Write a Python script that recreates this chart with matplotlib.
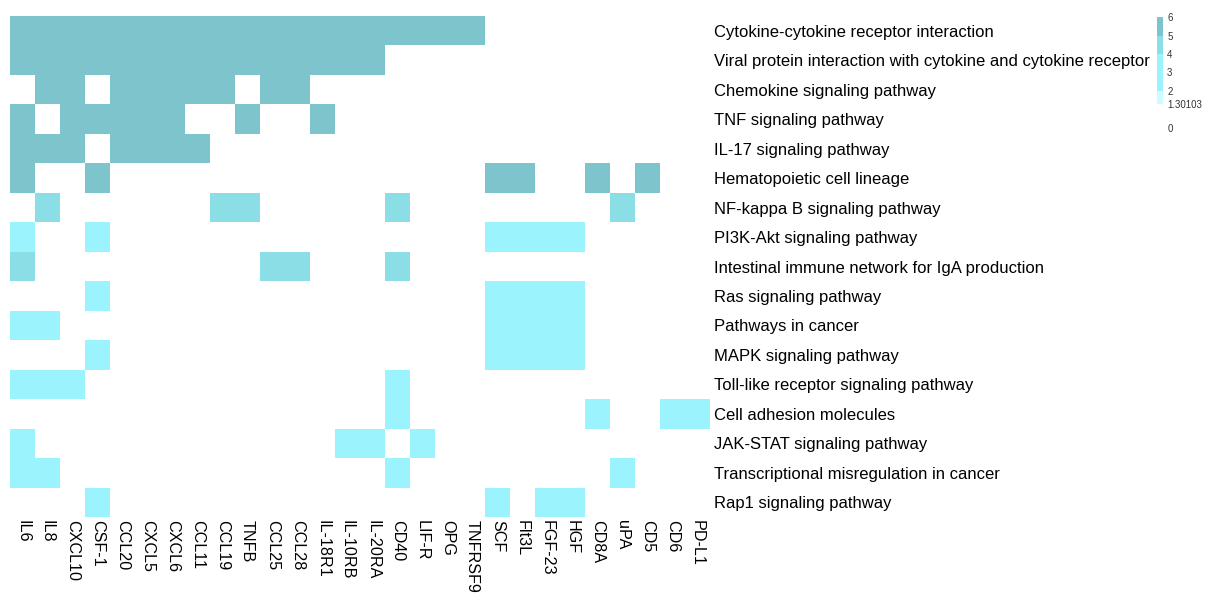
import numpy as np
import matplotlib
matplotlib.use("Agg")
import matplotlib.pyplot as plt
from matplotlib.colors import ListedColormap, BoundaryNorm

plt.rcParams['font.family'] = ['Liberation Sans', 'DejaVu Sans']

# genes (columns) and KEGG pathways (rows)
genes = ["IL6", "IL8", "CXCL10", "CSF-1", "CCL20", "CXCL5", "CXCL6", "CCL11",
         "CCL19", "TNFB", "CCL25", "CCL28", "IL-18R1", "IL-10RB", "IL-20RA",
         "CD40", "LIF-R", "OPG", "TNFRSF9", "SCF", "Flt3L", "FGF-23", "HGF",
         "CD8A", "uPA", "CD5", "CD6", "PD-L1"]

pathways = ["Cytokine-cytokine receptor interaction",
            "Viral protein interaction with cytokine and cytokine receptor",
            "Chemokine signaling pathway",
            "TNF signaling pathway",
            "IL-17 signaling pathway",
            "Hematopoietic cell lineage",
            "NF-kappa B signaling pathway",
            "PI3K-Akt signaling pathway",
            "Intestinal immune network for IgA production",
            "Ras signaling pathway",
            "Pathways in cancer",
            "MAPK signaling pathway",
            "Toll-like receptor signaling pathway",
            "Cell adhesion molecules",
            "JAK-STAT signaling pathway",
            "Transcriptional misregulation in cancer",
            "Rap1 signaling pathway"]

# -log10(p) per cell, estimated from colour band (0 = not significant)
H, M, L = 5.5, 4.5, 3.0
values = [
    [H, H, H, H, H, H, H, H, H, H, H, H, H, H, H, H, H, H, H, 0, 0, 0, 0, 0, 0, 0, 0, 0],
    [H, H, H, H, H, H, H, H, H, H, H, H, H, H, H, 0, 0, 0, 0, 0, 0, 0, 0, 0, 0, 0, 0, 0],
    [0, H, H, 0, H, H, H, H, H, 0, H, H, 0, 0, 0, 0, 0, 0, 0, 0, 0, 0, 0, 0, 0, 0, 0, 0],
    [H, 0, H, H, H, H, H, 0, 0, H, 0, 0, H, 0, 0, 0, 0, 0, 0, 0, 0, 0, 0, 0, 0, 0, 0, 0],
    [H, H, H, 0, H, H, H, H, 0, 0, 0, 0, 0, 0, 0, 0, 0, 0, 0, 0, 0, 0, 0, 0, 0, 0, 0, 0],
    [H, 0, 0, H, 0, 0, 0, 0, 0, 0, 0, 0, 0, 0, 0, 0, 0, 0, 0, H, H, 0, 0, H, 0, H, 0, 0],
    [0, M, 0, 0, 0, 0, 0, 0, M, M, 0, 0, 0, 0, 0, M, 0, 0, 0, 0, 0, 0, 0, 0, M, 0, 0, 0],
    [L, 0, 0, L, 0, 0, 0, 0, 0, 0, 0, 0, 0, 0, 0, 0, 0, 0, 0, L, L, L, L, 0, 0, 0, 0, 0],
    [M, 0, 0, 0, 0, 0, 0, 0, 0, 0, M, M, 0, 0, 0, M, 0, 0, 0, 0, 0, 0, 0, 0, 0, 0, 0, 0],
    [0, 0, 0, L, 0, 0, 0, 0, 0, 0, 0, 0, 0, 0, 0, 0, 0, 0, 0, L, L, L, L, 0, 0, 0, 0, 0],
    [L, L, 0, 0, 0, 0, 0, 0, 0, 0, 0, 0, 0, 0, 0, 0, 0, 0, 0, L, L, L, L, 0, 0, 0, 0, 0],
    [0, 0, 0, L, 0, 0, 0, 0, 0, 0, 0, 0, 0, 0, 0, 0, 0, 0, 0, L, L, L, L, 0, 0, 0, 0, 0],
    [L, L, L, 0, 0, 0, 0, 0, 0, 0, 0, 0, 0, 0, 0, L, 0, 0, 0, 0, 0, 0, 0, 0, 0, 0, 0, 0],
    [0, 0, 0, 0, 0, 0, 0, 0, 0, 0, 0, 0, 0, 0, 0, L, 0, 0, 0, 0, 0, 0, 0, L, 0, 0, L, L],
    [L, 0, 0, 0, 0, 0, 0, 0, 0, 0, 0, 0, 0, L, L, 0, L, 0, 0, 0, 0, 0, 0, 0, 0, 0, 0, 0],
    [L, L, 0, 0, 0, 0, 0, 0, 0, 0, 0, 0, 0, 0, 0, L, 0, 0, 0, 0, 0, 0, 0, 0, L, 0, 0, 0],
    [0, 0, 0, L, 0, 0, 0, 0, 0, 0, 0, 0, 0, 0, 0, 0, 0, 0, 0, L, 0, L, L, 0, 0, 0, 0, 0],
]

breaks = [0, 1.30103, 2, 4, 5, 6]
band_colors = ["#FFFFFF", "#CCFCFF", "#9BF4FD", "#8BDDE6", "#7DC4CD"]
legend_ticks = [0, 1.30103, 2, 3, 4, 5, 6]

cmap = ListedColormap(band_colors)
norm = BoundaryNorm(breaks, cmap.N)
mat = np.array(values)

fig = plt.figure(figsize=(12.06, 5.93), dpi=100)
W, Hpx = 1206, 593

# heatmap
ax = fig.add_axes([10 / W, 1 - 517 / Hpx, 700 / W, 501 / Hpx])
ax.pcolormesh(mat, cmap=cmap, norm=norm)
ax.set_xlim(0, len(genes))
ax.set_ylim(len(pathways), 0)
for s in ax.spines.values():
    s.set_visible(False)
ax.set_xticks(np.arange(len(genes)) + 0.5)
ax.set_xticklabels(genes, rotation=270, ha="center", va="top", fontsize=11.6)
ax.set_yticks(np.arange(len(pathways)) + 0.5)
ax.set_yticklabels(pathways, fontsize=12)
ax.yaxis.tick_right()
ax.tick_params(axis="y", length=0, pad=3)
ax.tick_params(axis="x", length=0, pad=2)

# legend bar
cax = fig.add_axes([1157 / W, 1 - 128 / Hpx, 6 / W, 111 / Hpx])
lb = np.array(breaks[1:])
mids = (lb[:-1] + lb[1:]) / 2
cax.pcolormesh([0, 1], lb, mids.reshape(-1, 1), cmap=cmap, norm=norm)
cax.set_xlim(0, 1)
cax.set_ylim(0, 6)
cax.set_xticks([])
cax.set_yticks(legend_ticks)
cax.set_yticklabels([f"{t:g}" for t in legend_ticks], fontsize=7, color="#333333")
cax.yaxis.tick_right()
cax.tick_params(length=0, pad=3)
for s in cax.spines.values():
    s.set_visible(False)

fig.savefig("out.png", dpi=100)
